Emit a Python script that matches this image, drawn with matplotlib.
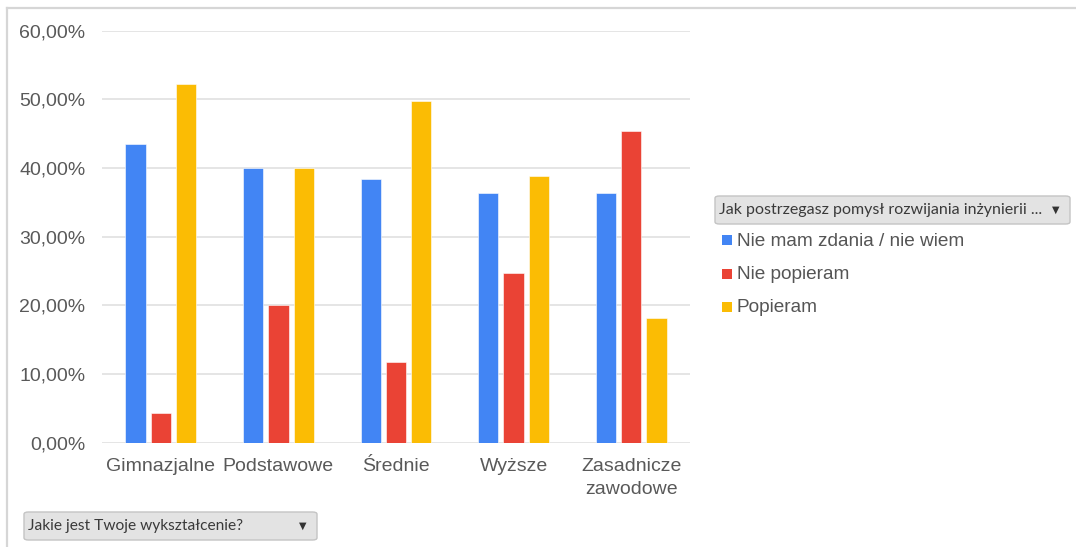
import matplotlib.pyplot as plt
import numpy as np
from matplotlib.patches import FancyBboxPatch
from matplotlib.lines import Line2D
from matplotlib.ticker import FuncFormatter

categories = ["Gimnazjalne", "Podstawowe", "Średnie", "Wyższe", "Zasadnicze\nzawodowe"]
series_names = ["Nie mam zdania / nie wiem", "Nie popieram", "Popieram"]
nie_mam_zdania = [43.48, 40.00, 38.46, 36.36, 36.36]
nie_popieram = [4.35, 20.00, 11.72, 24.75, 45.45]
popieram = [52.17, 40.00, 49.82, 38.89, 18.18]
series_values = [nie_mam_zdania, nie_popieram, popieram]
colors = ["#4285F4", "#EA4335", "#FBBC04"]

legend_title = "Jak postrzegasz pomysł rozwijania inżynierii ..."
filter_title = "Jakie jest Twoje wykształcenie?"

W, H = 1076, 547
fig = plt.figure(figsize=(W / 100, H / 100), dpi=100)
plt.rcParams['font.family'] = ['Liberation Sans', 'DejaVu Sans']

ax = fig.add_axes([102 / W, (H - 442.5) / H, 588 / W, (442.5 - 30.7) / H])

x = np.arange(len(categories))
bw = 0.173
step = 0.215
for i, (vals, col) in enumerate(zip(series_values, colors)):
    ax.bar(x + (i - 1) * step, vals, width=bw, color=col, zorder=3,
           edgecolor="white", linewidth=0.4)

ax.set_xlim(-0.5, len(categories) - 0.5)
ax.set_ylim(0, 60)
ax.set_yticks(np.arange(0, 61, 10))
ax.yaxis.set_major_formatter(FuncFormatter(lambda v, p: ("%.2f%%" % v).replace(".", ",")))
ax.set_xticks(x)
ax.set_xticklabels(categories, fontsize=14, color="#595959", linespacing=1.45)
ax.tick_params(axis="y", length=0, pad=12, labelsize=14, labelcolor="#595959")
ax.tick_params(axis="x", length=0, pad=11)
ax.grid(axis="y", color="#e0e0e0", linewidth=1.2, zorder=0)
for s in ax.spines.values():
    s.set_visible(False)

# outer frame (top and left edge)
fig.add_artist(Line2D([7 / W, 7 / W], [0, (H - 7.5) / H], color="#d6d6d6", linewidth=1.6))
fig.add_artist(Line2D([7 / W, 1], [(H - 7.5) / H, (H - 7.5) / H], color="#d6d6d6", linewidth=1.6))


def dropdown(x0, y0, x1, y1, label, size):
    # box in pixel coords (top-left origin)
    bx = FancyBboxPatch((x0 / W, (H - y1) / H), (x1 - x0) / W, (y1 - y0) / H,
                        boxstyle="round,pad=0,rounding_size=0.004",
                        transform=fig.transFigure, facecolor="#e3e3e3",
                        edgecolor="#c4c4c4", linewidth=1.0, zorder=1)
    fig.add_artist(bx)
    grad = np.linspace(0.94, 0.80, 50).reshape(-1, 1)
    gax = fig.add_axes([x0 / W, (H - y1) / H, (x1 - x0) / W, (y1 - y0) / H], zorder=0.5)
    gax.imshow(grad, cmap="gray", vmin=0, vmax=1, aspect="auto", extent=[0, 1, 0, 1])
    gax.axis("off")
    gax.images[0].set_clip_path(bx)
    fig.text((x0 + 4) / W, (H - (y0 + y1) / 2) / H, label, family="Lato",
             fontsize=size, color="#3a3a3a", va="center", ha="left")
    fig.text((x1 - 14) / W, (H - (y0 + y1) / 2) / H, "▼", family="DejaVu Sans",
             fontsize=7, color="#333333", va="center", ha="center")


dropdown(24, 512, 317, 540, filter_title, 11.2)
dropdown(715, 196, 1070, 224, legend_title, 11.5)

# legend
for i, (name, col) in enumerate(zip(series_names, colors)):
    yc = 241 + i * 33.5
    fig.patches.append(plt.Rectangle((722 / W, (H - yc - 4) / H), 10 / W, 10 / H,
                                     transform=fig.transFigure, facecolor=col,
                                     edgecolor="none"))
    fig.text(737 / W, (H - yc) / H, name, fontsize=13.7, color="#555555",
             va="center", ha="left")

fig.savefig("out.png", dpi=100)
